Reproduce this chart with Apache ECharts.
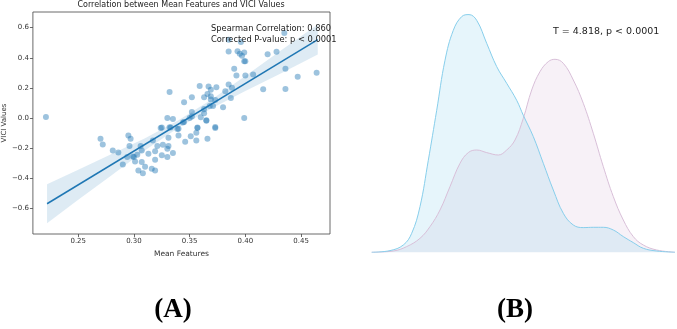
<!DOCTYPE html>
<html>
<head>
<meta charset="utf-8">
<script src="https://cdn.jsdelivr.net/npm/echarts@6/dist/echarts.min.js"></script>
<style>
  html, body { margin: 0; padding: 0; background: #fff; }
  #main { width: 677px; height: 329px; }
</style>
</head>
<body>
<div id="main"></div>
<script>
// (A) scatter: mean features vs VICI values
var meanFeatures = [0.221, 0.435, 0.385, 0.396, 0.385, 0.393, 0.395, 0.397, 0.399, 0.399, 0.400,
  0.390, 0.392, 0.400, 0.407, 0.420, 0.428, 0.436, 0.464, 0.447, 0.436, 0.416, 0.385, 0.388,
  0.387, 0.382, 0.374, 0.369, 0.367, 0.359, 0.363, 0.366, 0.369, 0.369, 0.373, 0.371, 0.368,
  0.380, 0.363, 0.363, 0.360, 0.352, 0.352, 0.350, 0.345, 0.352, 0.332, 0.330, 0.335, 0.399,
  0.365, 0.344, 0.324, 0.332, 0.339, 0.357, 0.373,
  0.270, 0.272, 0.295, 0.297, 0.296, 0.281, 0.286, 0.290, 0.294, 0.299, 0.300, 0.303, 0.301,
  0.304, 0.308, 0.310, 0.306, 0.307, 0.307, 0.313, 0.317, 0.319, 0.316, 0.319, 0.319, 0.321,
  0.325, 0.326, 0.325, 0.330, 0.330, 0.331, 0.331, 0.333, 0.335, 0.340, 0.340, 0.345, 0.346,
  0.351, 0.356, 0.357, 0.356, 0.365, 0.366, 0.373];
var viciValues = [0.007, 0.564, 0.520, 0.504, 0.442, 0.444, 0.427, 0.413, 0.435, 0.376, 0.376,
  0.327, 0.282, 0.282, 0.289, 0.424, 0.440, 0.327, 0.300, 0.273, 0.193, 0.191, 0.222, 0.200,
  0.133, 0.178, 0.204, 0.187, 0.209, 0.213, 0.138, 0.160, 0.144, 0.122, 0.120, 0.080, 0.080,
  0.071, 0.060, 0.031, 0.004, 0.040, 0.009, 0.000, 0.104, 0.138, 0.173, 0.000, -0.007, 0.000,
  -0.018, -0.030, -0.067, -0.062, -0.073, -0.067, -0.067,
  -0.138, -0.176, -0.116, -0.138, -0.187, -0.216, -0.229, -0.309, -0.260, -0.256, -0.260, -0.244, -0.289,
  -0.349, -0.367, -0.324, -0.187, -0.216, -0.293, -0.238, -0.149, -0.222, -0.338, -0.349, -0.278, -0.187,
  -0.064, -0.178, -0.247, -0.260, -0.204, -0.187, -0.131, -0.064, -0.233, -0.116, -0.071, -0.027, -0.158,
  -0.122, -0.098, -0.064, -0.149, -0.016, -0.138, -0.060];

// regression fit and its confidence band
var fitX = [0.222, 0.465];
var fitY = [-0.570, 0.521];
var bandX = [0.222, 0.25, 0.28, 0.31, 0.34, 0.37, 0.40, 0.43, 0.465];
var bandLower = [-0.70, -0.544, -0.38, -0.215, -0.065, 0.065, 0.179, 0.289, 0.421];
var bandUpper = [-0.44, -0.344, -0.24, -0.135, -0.015, 0.125, 0.279, 0.439, 0.621];

var xTicks = [0.25, 0.30, 0.35, 0.40, 0.45];
var yTicks = [-0.6, -0.4, -0.2, 0.0, 0.2, 0.4, 0.6];

// (B) two density curves
var blueX = [31.7, 50, 63.3, 71.7, 80, 88.3, 96.7, 105, 113.3, 121.7, 129, 136.7, 146.7, 156.7,
  166.7, 176.7, 183.3, 193.3, 203.3, 213.3, 223.3, 233.3, 243.3, 253.3, 263.3, 273.3, 283.3,
  293.3, 303.3, 316.7, 335];
var blueDensity = [0, 0.017, 0.073, 0.19, 0.457, 0.92, 1.42, 1.92, 2.22, 2.357, 2.377, 2.32, 2.09,
  1.857, 1.69, 1.52, 1.37, 1.157, 0.89, 0.623, 0.39, 0.273, 0.247, 0.25, 0.25, 0.223, 0.157,
  0.097, 0.04, 0.013, 0];
var pinkX = [31.7, 53.3, 66.7, 80, 90, 100, 110, 120, 128.3, 136.7, 146.7, 158.3, 166.7, 175,
  183.3, 191.7, 200, 208.3, 215, 223.3, 233.3, 243.3, 253.3, 263.3, 273.3, 283.3, 293.3, 303.3,
  316.7, 335];
var pinkDensity = [0, 0.013, 0.057, 0.14, 0.257, 0.423, 0.657, 0.89, 0.997, 1.023, 0.997, 0.973,
  1.023, 1.123, 1.34, 1.623, 1.807, 1.907, 1.93, 1.89, 1.723, 1.49, 1.19, 0.857, 0.557, 0.323,
  0.157, 0.073, 0.023, 0];

function pairs(xs, ys) {
    return xs.map(function (x, i) { return [x, ys[i]]; });
}

var FONT = '"DejaVu Sans", sans-serif';
var blue = '#1f77b4';

var option = {
    backgroundColor: '#ffffff',
    animation: false,
    grid: [
        { left: 32, top: 12, width: 298, height: 222, show: true, borderColor: '#444', borderWidth: 0.8, backgroundColor: 'transparent' },
        { left: 340, top: 12.3, width: 337, height: 240 }
    ],
    xAxis: [{
        type: 'value', gridIndex: 0, min: 0.2093, max: 0.476,
        name: 'Mean Features', nameLocation: 'middle', nameGap: 13,
        nameTextStyle: { fontFamily: FONT, fontSize: 7.5, color: '#333' },
        axisLine: { show: false, onZero: false },
        splitLine: { show: false },
        axisTick: { show: true, length: 3, customValues: xTicks, lineStyle: { color: '#444', width: 0.8 } },
        axisLabel: {
            customValues: xTicks, fontFamily: FONT, fontSize: 7, color: '#333', margin: 4,
            formatter: function (v) { return v.toFixed(2); }
        }
    }, {
        type: 'value', gridIndex: 1, min: 0, max: 337, show: false
    }],
    yAxis: [{
        type: 'value', gridIndex: 0, min: -0.771, max: 0.704,
        name: 'VICI Values', nameLocation: 'middle', nameGap: 22,
        nameTextStyle: { fontFamily: FONT, fontSize: 7, color: '#333' },
        axisLine: { show: false, onZero: false },
        splitLine: { show: false },
        axisTick: { show: true, length: 3, customValues: yTicks, lineStyle: { color: '#444', width: 0.8 } },
        axisLabel: {
            customValues: yTicks, fontFamily: FONT, fontSize: 7, color: '#333', margin: 4,
            formatter: function (v) { return (v < 0 ? '\u2212' : '') + Math.abs(v).toFixed(1); }
        }
    }, {
        type: 'value', gridIndex: 1, min: 0, max: 2.4, show: false
    }],
    graphic: [
        { type: 'text', x: 181, y: 5, style: { text: 'Correlation between Mean Features and VICI Values', font: '8px ' + FONT, fill: '#222', textAlign: 'center', textVerticalAlign: 'middle' } },
        { type: 'text', x: 211, y: 29, z: 10, style: { text: 'Spearman Correlation: 0.860', font: '8.3px ' + FONT, fill: '#222', textVerticalAlign: 'middle' } },
        { type: 'text', x: 211, y: 39.5, z: 10, style: { text: 'Corrected P-value: p < 0.0001', font: '8.3px ' + FONT, fill: '#222', textVerticalAlign: 'middle' } },
        { type: 'text', x: 553, y: 32, style: { text: 'T = 4.818, p < 0.0001', font: '9.5px ' + FONT, fill: '#222', textVerticalAlign: 'middle' } },
        { type: 'text', x: 173, y: 310, style: { text: '(A)', font: 'bold 27px "Liberation Serif", serif', fill: '#000', textAlign: 'center', textVerticalAlign: 'middle' } },
        { type: 'text', x: 515, y: 310, style: { text: '(B)', font: 'bold 27px "Liberation Serif", serif', fill: '#000', textAlign: 'center', textVerticalAlign: 'middle' } }
    ],
    series: [{
        type: 'custom', xAxisIndex: 0, yAxisIndex: 0, data: [0], silent: true,
        renderItem: function (params, api) {
            var pts = [];
            bandX.forEach(function (x, i) { pts.push(api.coord([x, bandUpper[i]])); });
            for (var i = bandX.length - 1; i >= 0; i--) pts.push(api.coord([bandX[i], bandLower[i]]));
            return { type: 'polygon', shape: { points: pts }, style: { fill: 'rgba(31,119,180,0.15)' } };
        }
    }, {
        type: 'scatter', xAxisIndex: 0, yAxisIndex: 0, symbolSize: 6,
        itemStyle: { color: 'rgba(31,119,180,0.55)' },
        data: pairs(meanFeatures, viciValues)
    }, {
        type: 'line', xAxisIndex: 0, yAxisIndex: 0, showSymbol: false,
        lineStyle: { color: blue, width: 1.5 },
        data: pairs(fitX, fitY)
    }, {
        type: 'line', xAxisIndex: 1, yAxisIndex: 1, showSymbol: false, smooth: 0.4,
        lineStyle: { color: '#d8bfd8', width: 1 },
        areaStyle: { color: 'rgba(216,191,216,0.3)' },
        data: pairs(pinkX, pinkDensity)
    }, {
        type: 'line', xAxisIndex: 1, yAxisIndex: 1, showSymbol: false, smooth: 0.4,
        lineStyle: { color: '#87ceeb', width: 1 },
        areaStyle: { color: 'rgba(135,206,235,0.3)' },
        data: pairs(blueX, blueDensity)
    }]
};

var myChart = echarts.init(document.getElementById('main'));
myChart.setOption(option);
</script>
</body>
</html>
